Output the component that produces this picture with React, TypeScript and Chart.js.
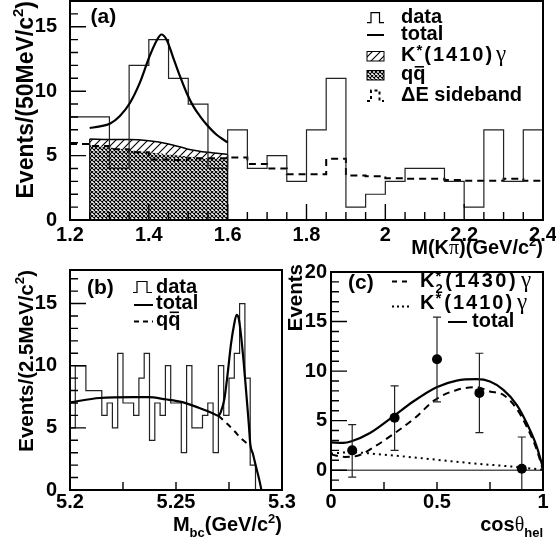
import React, { useEffect, useRef } from "react";
import { Chart, registerables } from "chart.js";

Chart.register(...registerables);

/* ---------------- Panel (a): M(Kpi) ---------------- */
const A_BIN_START = 1.2;
const A_BIN_WIDTH = 0.05;
const A_DATA = [8, 8, 4, 12, 14, 11, 9, 4, 7, 4, 5, 3, 7, 11, 1, 2, 3, 4, 4, 3, 1, 7, 3, 7];
const A_SIDEBAND = [5.9, 5.75, 5.5, 5.25, 4.7, 4.65, 4.8, 4.8, 4.85, 4.35, 4.0, 3.55, 3.55, 4.75, 3.45, 3.4, 3.25, 3.2, 3.2, 3.1, 3.05, 3.05, 3.2, 3.05];
const A_TOTAL_X = [1.25, 1.276, 1.301, 1.326, 1.352, 1.377, 1.402, 1.419, 1.432, 1.445, 1.462, 1.479, 1.496, 1.513, 1.53, 1.547, 1.572, 1.6];
const A_TOTAL_Y = [7.14, 7.27, 7.47, 8.05, 9.08, 10.64, 12.72, 13.88, 14.4, 14.0, 12.59, 11.16, 9.86, 8.82, 8.05, 7.4, 6.62, 6.02];
const A_COMP_X = [1.25, 1.3, 1.35, 1.4, 1.45, 1.5, 1.55, 1.6];
const A_QQ_Y = [5.81, 5.62, 5.43, 5.25, 5.08, 4.93, 4.8, 4.7];
const A_KSTAR_TOP = [6.28, 6.25, 6.25, 6.15, 5.9, 5.5, 5.25, 5.09];
const A_X_TICKS = [1.2, 1.4, 1.6, 1.8, 2.0, 2.2, 2.4];
const A_X_LABELS = ["1.2", "1.4", "1.6", "1.8", "2", "2.2", "2.4"];
const A_Y_TICKS = [0, 5, 10, 15];
const A_Y_LABELS = ["0", "5", "10", "15"];

/* ---------------- Panel (b): Mbc ---------------- */
const B_BIN_START = 5.2;
const B_BIN_WIDTH = 0.0025;
const B_DATA = [5, 10, 10, 8, 8, 8, 6, 7, 5, 11, 7, 7, 6, 9, 11, 4, 7, 6, 10, 7, 7, 3, 10, 5, 5, 6, 7, 3, 10, 6, 9, 11, 15, 9, 2, 0, 0, 0, 0, 0];
const B_TOTAL_X = [5.2, 5.214, 5.23, 5.237, 5.245, 5.253, 5.261, 5.267, 5.27, 5.2712, 5.2728, 5.2744, 5.2759, 5.2775, 5.2786, 5.2796, 5.2807, 5.2818, 5.283, 5.2843, 5.2851, 5.2862, 5.2877, 5.2893, 5.2903];
const B_TOTAL_Y = [7.05, 7.4, 7.47, 7.47, 7.3, 7.07, 6.6, 6.2, 5.97, 6.3, 7.3, 9.4, 11.7, 13.4, 14.1, 13.8, 12.4, 10.5, 8.1, 5.4, 3.6, 2.95, 1.9, 0.8, 0];
const B_QQ_X = [5.27, 5.274, 5.2775, 5.281, 5.2851];
const B_QQ_Y = [5.97, 5.35, 4.75, 4.1, 3.55];
const B_X_TICKS = [5.2, 5.25, 5.3];
const B_X_LABELS = ["5.2", "5.25", "5.3"];
const B_Y_TICKS = [0, 5, 10, 15];
const B_Y_LABELS = ["0", "5", "10", "15"];

/* ---------------- Panel (c): cos theta_hel ---------------- */
const C_PX = [0.1, 0.3, 0.5, 0.7, 0.9];
const C_PY = [2.0, 5.3, 11.2, 7.8, 0.15];
const C_ERR_UP = [2.6, 3.2, 4.25, 4.0, 3.2];
const C_ERR_DN = [2.7, 3.3, 4.3, 4.0, 3.2];
const C_TOTAL_X = [0, 0.058, 0.097, 0.184, 0.294, 0.388, 0.498, 0.593, 0.687, 0.75, 0.813, 0.876, 0.923, 0.97, 1.0];
const C_TOTAL_Y = [2.81, 2.75, 2.92, 3.75, 5.43, 6.93, 8.37, 9.04, 9.18, 8.94, 8.1, 6.6, 4.76, 2.41, 0.23];
const C_K2_X = [0, 0.066, 0.129, 0.208, 0.302, 0.396, 0.491, 0.593, 0.687, 0.75, 0.813, 0.876, 0.923, 0.97, 1.0];
const C_K2_Y = [1.58, 1.34, 1.48, 2.41, 3.76, 5.27, 7.1, 8.1, 8.37, 7.94, 7.6, 6.2, 4.4, 2.1, 0.0];
const C_KS_X = [0, 0.098, 0.208, 0.365, 0.522, 0.679, 0.836, 1.0];
const C_KS_Y = [1.68, 1.81, 1.64, 1.34, 1.0, 0.67, 0.4, 0.05];
const C_X_TICKS = [0, 0.5, 1];
const C_X_LABELS = ["0", "0.5", "1"];
const C_Y_TICKS = [0, 5, 10, 15, 20];
const C_Y_LABELS = ["0", "5", "10", "15", "20"];

/* ---------------- helpers ---------------- */
const SANS = '"Liberation Sans", Arial, Helvetica, sans-serif';
const SERIF = '"Liberation Serif", "Times New Roman", serif';
const W = 556;
const H = 548;

type Pt = { x: number; y: number };
const zip = (xs: number[], ys: number[]): Pt[] => xs.map((x, i) => ({ x, y: ys[i] }));
function steps(lo: number, w: number, vals: number[]): Pt[] {
  const p = vals.map((v, i) => ({ x: lo + i * w, y: v }));
  p.push({ x: lo + vals.length * w, y: vals[vals.length - 1] });
  return p;
}
function range(a: number, b: number, s: number): number[] {
  const r: number[] = [];
  for (let i = 0; a + i * s <= b + 1e-9; i++) r.push(+(a + i * s).toFixed(6));
  return r;
}
const fnt = (size: number, bold = true, serif = false) =>
  `${bold ? "bold " : ""}${size}px ${serif ? SERIF : SANS}`;

type Seg = { t: string; s?: number; dy?: number; serif?: boolean; normal?: boolean; noAdv?: boolean; over?: boolean; gap?: number; ls?: number };
const SUP = { s: 0.65, dy: -0.42 };
const SUB = { s: 0.65, dy: 0.3 };

function segWidth(ctx: CanvasRenderingContext2D, g: Seg) {
  if (!g.ls) return ctx.measureText(g.t).width;
  let w = 0;
  for (const ch of g.t) w += ctx.measureText(ch).width + g.ls;
  return w;
}

function drawRich(ctx: CanvasRenderingContext2D, segs: Seg[], x: number, y: number, base: number, align: "left" | "right" = "left", rot = false) {
  ctx.save();
  ctx.translate(x, y);
  if (rot) ctx.rotate(-Math.PI / 2);
  ctx.fillStyle = "#000";
  ctx.strokeStyle = "#000";
  ctx.textBaseline = "alphabetic";
  ctx.textAlign = "left";
  const ws = segs.map((g) => {
    ctx.font = fnt(base * (g.s ?? 1), !g.normal, !!g.serif);
    return segWidth(ctx, g);
  });
  let total = 0;
  segs.forEach((g, i) => {
    if (!g.noAdv) total += ws[i] + (g.gap ?? 0);
  });
  let cx = align === "right" ? -total : 0;
  segs.forEach((g, i) => {
    const sz = base * (g.s ?? 1);
    ctx.font = fnt(sz, !g.normal, !!g.serif);
    const dy = (g.dy ?? 0) * base;
    if (g.ls) {
      let px = cx;
      for (const ch of g.t) {
        ctx.fillText(ch, px, dy);
        px += ctx.measureText(ch).width + g.ls;
      }
    } else {
      ctx.fillText(g.t, cx, dy);
    }
    if (g.over) {
      ctx.lineWidth = 1.6;
      ctx.beginPath();
      ctx.moveTo(cx + ws[i] * 0.12, dy - sz * 0.66);
      ctx.lineTo(cx + ws[i] * 0.88, dy - sz * 0.66);
      ctx.stroke();
    }
    if (!g.noAdv) cx += ws[i] + (g.gap ?? 0);
  });
  ctx.restore();
}

function line(ctx: CanvasRenderingContext2D, pts: number[][], w: number, dash: number[] = []) {
  ctx.save();
  ctx.strokeStyle = "#000";
  ctx.lineWidth = w;
  ctx.setLineDash(dash);
  ctx.beginPath();
  pts.forEach((p, i) => (i ? ctx.lineTo(p[0], p[1]) : ctx.moveTo(p[0], p[1])));
  ctx.stroke();
  ctx.restore();
}

function makeHatch(): CanvasPattern | string {
  const c = document.createElement("canvas");
  c.width = 8;
  c.height = 8;
  const g = c.getContext("2d")!;
  g.strokeStyle = "#000";
  g.lineWidth = 1.1;
  g.beginPath();
  g.moveTo(0, 8);
  g.lineTo(8, 0);
  g.moveTo(-2, 2);
  g.lineTo(2, -2);
  g.moveTo(6, 10);
  g.lineTo(10, 6);
  g.stroke();
  return g.createPattern(c, "repeat") || "#888";
}
function makeCross(): CanvasPattern | string {
  const s = 4;
  const c = document.createElement("canvas");
  c.width = s;
  c.height = s;
  const g = c.getContext("2d")!;
  g.fillStyle = "#fff";
  g.fillRect(0, 0, s, s);
  g.strokeStyle = "#000";
  g.lineWidth = 1.1;
  g.beginPath();
  g.moveTo(0, 0);
  g.lineTo(s, s);
  g.moveTo(s, 0);
  g.lineTo(0, s);
  g.stroke();
  return g.createPattern(c, "repeat") || "#555";
}

const TICK_FONT = { family: SANS, size: 20, weight: "bold" as const, lineHeight: 1.2 };

function xAxis(min: number, max: number, ticks: number[], labels: string[], pad: number, boxH: number) {
  return {
    type: "linear",
    position: "bottom",
    min,
    max,
    grid: { display: false, drawTicks: false },
    border: { display: false },
    ticks: {
      color: "#000",
      font: TICK_FONT,
      padding: pad,
      maxRotation: 0,
      minRotation: 0,
      autoSkip: false,
      callback: (_v: number, i: number) => labels[i],
    },
    afterBuildTicks: (s: any) => {
      s.ticks = ticks.map((v) => ({ value: v }));
    },
    afterFit: (s: any) => {
      s.height = boxH;
      s.paddingLeft = 0;
      s.paddingRight = 0;
    },
  };
}
function yAxis(min: number, max: number, ticks: number[], labels: string[], pad: number, boxW: number) {
  return {
    type: "linear",
    position: "left",
    min,
    max,
    grid: { display: false, drawTicks: false },
    border: { display: false },
    ticks: {
      color: "#000",
      font: TICK_FONT,
      padding: pad,
      autoSkip: false,
      callback: (_v: number, i: number) => labels[i],
    },
    afterBuildTicks: (s: any) => {
      s.ticks = ticks.map((v) => ({ value: v }));
    },
    afterFit: (s: any) => {
      s.width = boxW;
      s.paddingTop = 0;
      s.paddingBottom = 0;
    },
  };
}
function baseOptions(pad: any, x: any, y: any) {
  return {
    animation: false,
    responsive: false,
    devicePixelRatio: 1,
    events: [],
    layout: { padding: pad, autoPadding: false },
    plugins: { legend: { display: false }, tooltip: { enabled: false }, title: { display: false } },
    elements: { point: { radius: 0 } },
    scales: { x, y },
  };
}

type TickSpec = { xMinor: number[]; xMajor: number[]; yMinor: number[]; yMajor: number[] };
function framePlugin(id: string, t: TickSpec) {
  return {
    id,
    afterDatasetsDraw(chart: any) {
      const { ctx, chartArea: a, scales } = chart;
      const x = scales.x;
      const y = scales.y;
      ctx.save();
      ctx.strokeStyle = "#000";
      ctx.lineWidth = 1.4;
      ctx.beginPath();
      t.xMinor.forEach((v) => {
        const p = x.getPixelForValue(v);
        ctx.moveTo(p, a.bottom);
        ctx.lineTo(p, a.bottom - 8);
      });
      t.xMajor.forEach((v) => {
        const p = x.getPixelForValue(v);
        ctx.moveTo(p, a.bottom);
        ctx.lineTo(p, a.bottom - 16);
      });
      t.yMinor.forEach((v) => {
        const p = y.getPixelForValue(v);
        ctx.moveTo(a.left, p);
        ctx.lineTo(a.left + 8, p);
      });
      t.yMajor.forEach((v) => {
        const p = y.getPixelForValue(v);
        ctx.moveTo(a.left, p);
        ctx.lineTo(a.left + 16, p);
      });
      ctx.stroke();
      ctx.lineWidth = 2;
      ctx.strokeRect(a.left, a.top, a.right - a.left, a.bottom - a.top);
      ctx.restore();
    },
  };
}

const lineDS = (data: Pt[], extra: any) => ({
  data,
  pointRadius: 0,
  borderColor: "#000",
  borderWidth: 2,
  fill: false,
  ...extra,
});

const GAMMA: Seg = { t: "\u03b3", serif: true, normal: true, s: 1.15 };

export default function App() {
  const ra = useRef<HTMLCanvasElement>(null);
  const rb = useRef<HTMLCanvasElement>(null);
  const rc = useRef<HTMLCanvasElement>(null);

  useEffect(() => {
    const hatch = makeHatch();
    const cross = makeCross();
    const last = A_COMP_X.length - 1;

    /* ---------- chart (a) ---------- */
    const textA = {
      id: "textA",
      afterDraw(chart: any) {
        const ctx = chart.ctx as CanvasRenderingContext2D;
        drawRich(ctx, [{ t: "(a)" }], 90.5, 23, 21);
        drawRich(ctx, [{ t: "Events/(50MeV/c" }, { t: "2", ...SUP }, { t: ")" }], 33, 1, 23, "right", true);
        drawRich(ctx, [{ t: "M(K" }, { t: "\u03c0", serif: true, normal: true }, { t: ")(GeV/c" }, { t: "2", ...SUP }, { t: ")" }], 543, 254, 20, "right");
        // legend glyphs
        line(ctx, [[367, 22.7], [371, 22.7], [371, 12.7], [379.5, 12.7], [379.5, 22.7], [384, 22.7]], 1.2);
        line(ctx, [[367, 35], [384, 35]], 2);
        ctx.save();
        ctx.fillStyle = hatch as any;
        ctx.fillRect(367, 51.5, 17, 9.5);
        ctx.fillStyle = cross as any;
        ctx.fillRect(367, 70.5, 17, 9.5);
        ctx.strokeStyle = "#000";
        ctx.lineWidth = 1;
        ctx.strokeRect(367, 51.5, 17, 9.5);
        ctx.strokeRect(367, 70.5, 17, 9.5);
        ctx.restore();
        line(ctx, [[367, 101], [371, 101], [371, 90.5], [379.5, 90.5], [379.5, 101], [384, 101]], 2, [3, 3]);
        const tx = 401;
        drawRich(ctx, [{ t: "data" }], tx, 23, 20);
        drawRich(ctx, [{ t: "total" }], tx, 40, 20);
        drawRich(ctx, [{ t: "K", gap: 1 }, { t: "*", s: 0.75, dy: -0.3, gap: 2 }, { t: "(1410)", ls: 2, gap: 2 }, GAMMA], tx, 61, 20);
        drawRich(ctx, [{ t: "q" }, { t: "q", over: true }], tx, 80, 20);
        drawRich(ctx, [{ t: "\u0394" }, { t: "E sideband" }], tx, 101, 20);
      },
    };

    const chartA = new Chart(ra.current!, {
      type: "line",
      data: {
        datasets: [
          lineDS(zip(A_TOTAL_X, A_TOTAL_Y), { cubicInterpolationMode: "monotone", borderWidth: 2.2 }),
          lineDS(steps(A_BIN_START, A_BIN_WIDTH, A_DATA), { stepped: "before", borderWidth: 1.2, borderColor: "#222" }),
          lineDS(steps(A_BIN_START, A_BIN_WIDTH, A_SIDEBAND), { stepped: "before", borderWidth: 2, borderDash: [7, 5] }),
          lineDS([{ x: A_COMP_X[0], y: 0 }, { x: A_COMP_X[0], y: A_KSTAR_TOP[0] }], { borderWidth: 1.2 }),
          lineDS([{ x: A_COMP_X[last], y: 0 }, { x: A_COMP_X[last], y: A_KSTAR_TOP[last] }], { borderWidth: 1.2 }),
          lineDS(zip(A_COMP_X, A_KSTAR_TOP), { cubicInterpolationMode: "monotone", borderWidth: 1.5, fill: "+1", backgroundColor: hatch }),
          lineDS(zip(A_COMP_X, A_QQ_Y), { cubicInterpolationMode: "monotone", borderColor: "rgba(0,0,0,0)", fill: "origin", backgroundColor: cross }),
        ],
      },
      options: baseOptions(
        { left: 0, top: 1, right: W - 543, bottom: H - 250 },
        xAxis(1.2, 2.4, A_X_TICKS, A_X_LABELS, 3, 30),
        yAxis(0, 17, A_Y_TICKS, A_Y_LABELS, 13, 70)
      ) as any,
      plugins: [
        framePlugin("frameA", { xMinor: range(1.2, 2.4, 0.05), xMajor: A_X_TICKS, yMinor: range(0, 17, 1), yMajor: A_Y_TICKS }),
        textA,
      ],
    } as any);

    /* ---------- chart (b) ---------- */
    const textB = {
      id: "textB",
      afterDraw(chart: any) {
        const ctx = chart.ctx as CanvasRenderingContext2D;
        drawRich(ctx, [{ t: "(b)" }], 87, 294, 21);
        drawRich(ctx, [{ t: "Events/(2.5MeV/c" }, { t: "2", ...SUP }, { t: ")" }], 33, 270, 20.5, "right", true);
        drawRich(ctx, [{ t: "M" }, { t: "bc", ...SUB }, { t: "(GeV/c" }, { t: "2", ...SUP }, { t: ")" }], 282, 531, 20, "right");
        line(ctx, [[133, 292.5], [137, 292.5], [137, 281.5], [147, 281.5], [147, 292.5], [152, 292.5]], 1.2);
        line(ctx, [[134, 305], [153, 305]], 2);
        line(ctx, [[134, 321.5], [153, 321.5]], 2, [5, 4]);
        drawRich(ctx, [{ t: "data" }], 156, 292.5, 20);
        drawRich(ctx, [{ t: "total" }], 156, 309, 20);
        drawRich(ctx, [{ t: "q" }, { t: "q", over: true }], 156, 325.5, 20);
      },
    };
    const chartB = new Chart(rb.current!, {
      type: "line",
      data: {
        datasets: [
          lineDS(zip(B_TOTAL_X, B_TOTAL_Y), { cubicInterpolationMode: "monotone", borderWidth: 2.2 }),
          lineDS(zip(B_QQ_X, B_QQ_Y), { cubicInterpolationMode: "monotone", borderWidth: 2, borderDash: [6, 5] }),
          lineDS(steps(B_BIN_START, B_BIN_WIDTH, B_DATA), { stepped: "before", borderWidth: 1.2, borderColor: "#222" }),
        ],
      },
      options: baseOptions(
        { left: 0, top: 270, right: W - 282, bottom: H - 520 },
        xAxis(5.2, 5.3, B_X_TICKS, B_X_LABELS, 0, 30),
        yAxis(0, 17.7, B_Y_TICKS, B_Y_LABELS, 13, 70)
      ) as any,
      plugins: [
        framePlugin("frameB", { xMinor: [5.225, 5.25, 5.275], xMajor: [], yMinor: range(0, 17, 1), yMajor: B_Y_TICKS }),
        textB,
      ],
    } as any);

    /* ---------- chart (c) ---------- */
    const textC = {
      id: "textC",
      beforeDatasetsDraw(chart: any) {
        const { ctx, chartArea: a, scales } = chart;
        const p = scales.y.getPixelForValue(0);
        line(ctx, [[a.left, p], [a.right, p]], 1);
      },
      beforeDatasetDraw(chart: any, args: any) {
        if (args.index !== 0) return;
        const { ctx, chartArea: a, scales } = chart;
        ctx.save();
        ctx.beginPath();
        ctx.rect(a.left, a.top, a.right - a.left, a.bottom - a.top);
        ctx.clip();
        ctx.strokeStyle = "#222";
        ctx.lineWidth = 1.2;
        ctx.beginPath();
        C_PX.forEach((xv, i) => {
          const px = scales.x.getPixelForValue(xv);
          const t = scales.y.getPixelForValue(C_PY[i] + C_ERR_UP[i]);
          const b = scales.y.getPixelForValue(C_PY[i] - C_ERR_DN[i]);
          ctx.moveTo(px, t);
          ctx.lineTo(px, b);
          ctx.moveTo(px - 4, t);
          ctx.lineTo(px + 4, t);
          ctx.moveTo(px - 4, b);
          ctx.lineTo(px + 4, b);
        });
        ctx.stroke();
        ctx.restore();
      },
      afterDraw(chart: any) {
        const ctx = chart.ctx as CanvasRenderingContext2D;
        drawRich(ctx, [{ t: "(c)" }], 348, 289, 21);
        drawRich(ctx, [{ t: "Events" }], 302, 264, 20.5, "right", true);
        drawRich(ctx, [{ t: "cos" }, { t: "\u03b8", serif: true, normal: true }, { t: "hel", ...SUB }], 543, 531, 20, "right");
        line(ctx, [[392, 281.5], [410, 281.5]], 2, [5, 5]);
        line(ctx, [[392, 306.5], [410, 306.5]], 2, [2, 3]);
        line(ctx, [[448, 322], [467, 322]], 2);
        drawRich(ctx, [{ t: "K", gap: 1 }, { t: "2", ...SUB, noAdv: true }, { t: "*", s: 0.75, dy: -0.3, gap: 4 }, { t: "(1430)", ls: 2.5, gap: 3 }, GAMMA], 420, 287, 20);
        drawRich(ctx, [{ t: "K", gap: 1 }, { t: "*", s: 0.75, dy: -0.3, gap: 3 }, { t: "(1410)", ls: 2, gap: 3 }, GAMMA], 420, 309, 20);
        drawRich(ctx, [{ t: "total" }], 472, 327, 20);
      },
    };
    const chartC = new Chart(rc.current!, {
      type: "line",
      data: {
        datasets: [
          {
            data: zip(C_PX, C_PY),
            showLine: false,
            pointRadius: 5,
            pointBackgroundColor: "#000",
            pointBorderColor: "#000",
            pointBorderWidth: 0,
            borderColor: "#000",
          },
          lineDS(zip(C_TOTAL_X, C_TOTAL_Y), { cubicInterpolationMode: "monotone", borderWidth: 2.2 }),
          lineDS(zip(C_K2_X, C_K2_Y), { cubicInterpolationMode: "monotone", borderWidth: 2, borderDash: [7, 5] }),
          lineDS(zip(C_KS_X, C_KS_Y), { cubicInterpolationMode: "monotone", borderWidth: 2, borderDash: [2, 4] }),
        ],
      },
      options: baseOptions(
        { left: 291, top: 272, right: W - 543, bottom: H - 520 },
        xAxis(0, 1, C_X_TICKS, C_X_LABELS, 0, 30),
        yAxis(-2, 20, C_Y_TICKS, C_Y_LABELS, 4, 40)
      ) as any,
      plugins: [
        framePlugin("frameC", { xMinor: [0.25, 0.5, 0.75], xMajor: [], yMinor: range(-2, 20, 1), yMajor: C_Y_TICKS }),
        textC,
      ],
    } as any);

    return () => {
      chartA.destroy();
      chartB.destroy();
      chartC.destroy();
    };
  }, []);

  const cs: React.CSSProperties = { position: "absolute", left: 0, top: 0, width: W, height: H };
  return (
    <div style={{ position: "absolute", left: 0, top: 0, width: W, height: H, background: "#fff", overflow: "hidden" }}>
      <canvas ref={ra} width={W} height={H} style={cs} />
      <canvas ref={rb} width={W} height={H} style={cs} />
      <canvas ref={rc} width={W} height={H} style={cs} />
    </div>
  );
}
